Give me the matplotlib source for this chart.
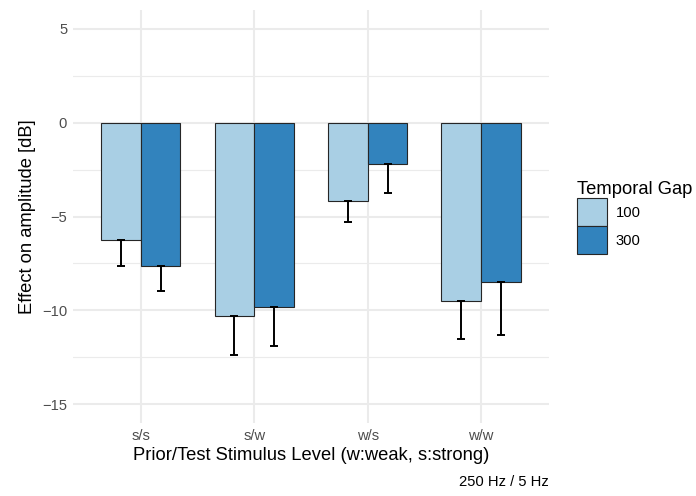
import numpy as np
import matplotlib
matplotlib.use('Agg')
import matplotlib.pyplot as plt
from matplotlib.patches import Patch
from matplotlib.ticker import MultipleLocator

plt.rcParams['font.family'] = ['Liberation Sans', 'DejaVu Sans']

# data
categories = ['s/s', 's/w', 'w/s', 'w/w']
gaps = ['100', '300']
mean_100 = [-6.25, -10.28, -4.16, -9.49]
mean_300 = [-7.66, -9.84, -2.21, -8.48]
se_100 = [1.41, 2.12, 1.11, 2.03]
se_300 = [1.33, 2.07, 1.53, 2.85]

colors = ['#a9cfe4', '#3283bd']

fig = plt.figure(figsize=(6.96, 4.96), dpi=100)
ax = fig.add_axes([0.1045, 0.147, 0.6845, 0.833])

x = np.arange(len(categories))
w = 0.35
for off, means, ses, col in [(-w / 2, mean_100, se_100, colors[0]),
                             (w / 2, mean_300, se_300, colors[1])]:
    ax.bar(x + off, means, width=w, color=col, edgecolor='#262626',
           linewidth=0.8, zorder=2)
    ax.errorbar(x + off, means, yerr=[ses, np.zeros(len(ses))], fmt='none',
                ecolor='black', elinewidth=1.4, capsize=2.6, capthick=1.4,
                zorder=3)

ax.set_xlim(-0.6, len(categories) - 0.4)
ax.set_ylim(-16, 6)
ax.set_xticks(x)
ax.set_xticklabels(categories)
ax.yaxis.set_minor_locator(MultipleLocator(2.5))
ax.set_yticks([5, 0, -5, -10, -15])
ax.set_yticklabels(['5', '0', '\u22125', '\u221210', '\u221215'])

ax.grid(True, which='major', color='#ebebeb', linewidth=1.5, zorder=0)
ax.grid(True, which='minor', axis='y', color='#ebebeb', linewidth=0.8, zorder=0)
ax.set_axisbelow(True)
for s in ax.spines.values():
    s.set_visible(False)
ax.tick_params(which='both', length=0, labelsize=10.6, labelcolor='#4d4d4d')
ax.tick_params(axis='x', pad=4)
ax.tick_params(axis='y', pad=4)

ax.set_xlabel('Prior/Test Stimulus Level (w:weak, s:strong)', fontsize=13.2, labelpad=3)
ax.set_ylabel('Effect on amplitude [dB]', fontsize=13.2, labelpad=4)

handles = [Patch(facecolor=c, edgecolor='#262626', linewidth=0.8) for c in colors]
leg = ax.legend(handles, gaps, title='Temporal Gap', loc='upper left',
                bbox_to_anchor=(1.047, 0.60), frameon=False, fontsize=10.6,
                title_fontsize=13.2, handlelength=2.0, handleheight=2.55,
                labelspacing=0.0, handletextpad=0.6, alignment='left',
                borderaxespad=0)

fig.text(0.788, 0.028, '250 Hz / 5 Hz', ha='right', va='center', fontsize=10.6)

fig.savefig('out.png', dpi=100)
